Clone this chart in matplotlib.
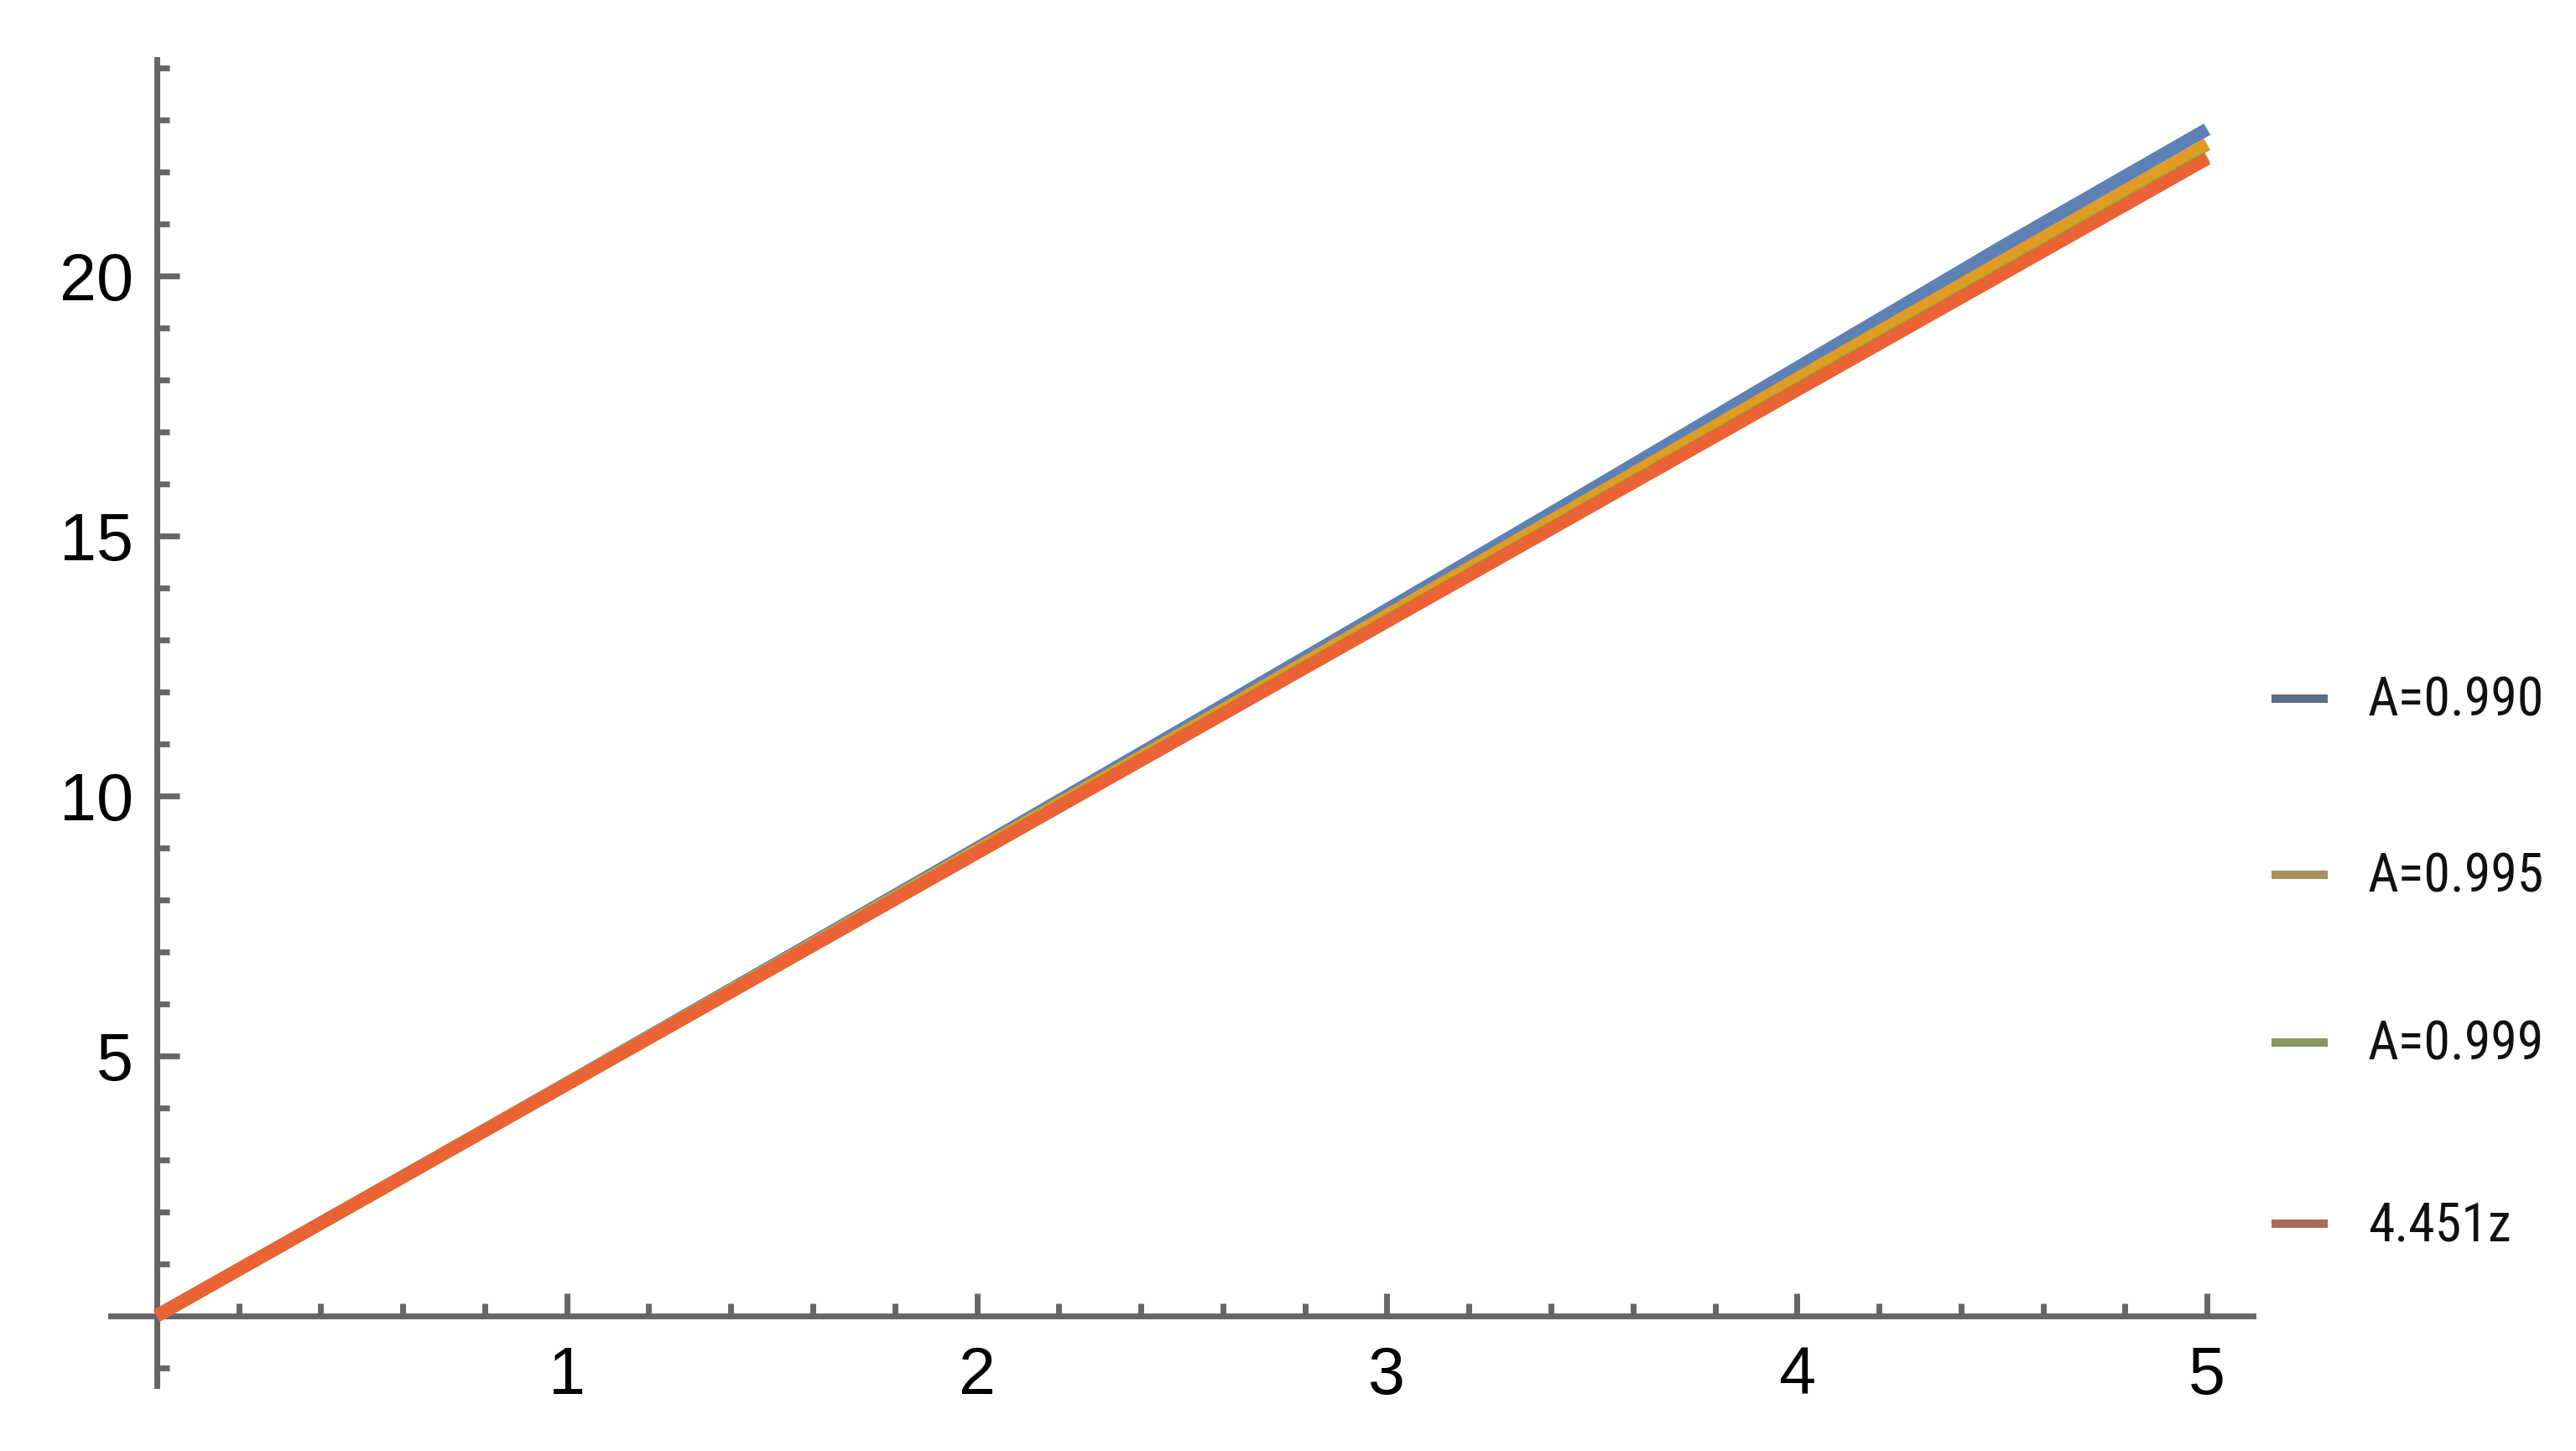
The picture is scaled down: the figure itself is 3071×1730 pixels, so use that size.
#!/usr/bin/env python3
"""Curvas para A=0.990, 0.995, 0.999 frente a la recta 4.451z."""
import matplotlib
matplotlib.use("Agg")
import matplotlib.pyplot as plt
from matplotlib.lines import Line2D
from matplotlib.ticker import MultipleLocator, NullFormatter

z = [0.0, 0.5, 1.0, 1.5, 2.0, 2.5, 3.0, 3.5, 4.0, 4.5, 5.0]
y_990 = [0.0, 2.230, 4.471, 6.727, 8.992, 11.28, 13.58, 15.90, 18.23, 20.56, 22.82]
y_995 = [0.0, 2.228, 4.461, 6.700, 8.950, 11.20, 13.47, 15.74, 18.02, 20.28, 22.53]
y_999 = [0.0, 2.226, 4.453, 6.680, 8.910, 11.14, 13.37, 15.60, 17.83, 20.06, 22.29]
y_lin = [0.0, 2.2255, 4.451, 6.6765, 8.902, 11.1275, 13.353, 15.5785, 17.804, 20.0295, 22.255]

labels = ["A=0.990", "A=0.995", "A=0.999", "4.451z"]
line_colors = ["#5E81B5", "#E19C24", "#8FB032", "#EB6235"]
legend_colors = ["#5b6f84", "#a8915c", "#8a9663", "#a86c55"]

W, H = 3071, 1730
DPI = 200
AXIS_GREY = "#666666"
LEGEND_FONTS = ["Liberation Sans Narrow", "DejaVu Sans Condensed", "Noto Sans Condensed",
                "Noto Sans SemiCondensed", "Roboto Condensed", "Liberation Sans"]

fig = plt.figure(figsize=(W / DPI, H / DPI), dpi=DPI)
ax = fig.add_axes([132 / W, 1 - 1652 / H, (2686 - 132) / W, (1652 - 71) / H])

for ys, c in zip([y_990, y_995, y_999, y_lin], line_colors):
    ax.plot(z, ys, color=c, lw=5.6, solid_capstyle="butt", zorder=3)

ax.set_xlim(-0.112, 5.112)
ax.set_ylim(-1.34, 24.16)

for side in ["top", "right"]:
    ax.spines[side].set_visible(False)
for side in ["left", "bottom"]:
    ax.spines[side].set_position(("data", 0))
    ax.spines[side].set_color(AXIS_GREY)
    ax.spines[side].set_linewidth(2.5)
    ax.spines[side].set_zorder(2)

ax.xaxis.set_major_locator(MultipleLocator(1))
ax.xaxis.set_minor_locator(MultipleLocator(0.2))
ax.yaxis.set_major_locator(MultipleLocator(5))
ax.yaxis.set_minor_locator(MultipleLocator(1))
ax.set_xticks([1, 2, 3, 4, 5])
ax.set_yticks([5, 10, 15, 20])
ax.xaxis.set_minor_formatter(NullFormatter())
ax.yaxis.set_minor_formatter(NullFormatter())

ax.tick_params(which="both", direction="in", color=AXIS_GREY, width=2.5,
               labelsize=28.5, labelcolor="black", labelfontfamily="Liberation Sans")
ax.tick_params(which="major", length=9.7)
ax.tick_params(which="minor", length=5.4)
ax.tick_params(axis="x", which="major", pad=12.5)
ax.tick_params(axis="y", which="major", pad=10)
ax.set_facecolor("none")

# leyenda pegada a la derecha
legend_y = [833, 1043, 1243, 1459]
for lab, c, yp in zip(labels, legend_colors, legend_y):
    fy = 1 - yp / H
    fig.add_artist(Line2D([2708 / W, 2775 / W], [fy, fy], transform=fig.transFigure,
                          color=c, lw=3.6, solid_capstyle="butt"))
    fig.text(2823 / W, 1 - (yp + 20) / H, lab, fontsize=23, va="baseline", ha="left",
             color="#111111", family=LEGEND_FONTS, fontstretch="condensed")

fig.savefig("out.png", dpi=DPI)
